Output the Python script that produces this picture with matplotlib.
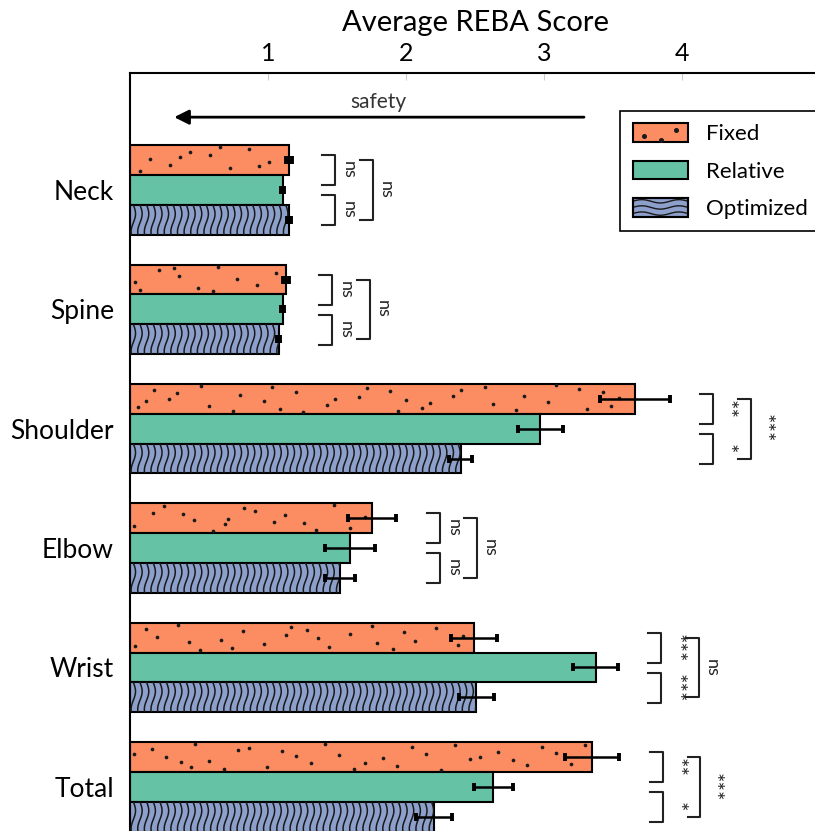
import numpy as np
import matplotlib
matplotlib.use('Agg')
from matplotlib import pyplot as plt
from matplotlib.patches import Rectangle
from matplotlib.lines import Line2D
from matplotlib.legend_handler import HandlerBase

plt.rcParams['font.family'] = ['Lato', 'DejaVu Sans']

# data
body_parts = ['Neck', 'Spine', 'Shoulder', 'Elbow', 'Wrist', 'Total']
fixed = [1.154, 1.130, 3.657, 1.756, 2.493, 3.350]
fixed_err = [0.02, 0.02, 0.254, 0.173, 0.169, 0.196]
relative = [1.106, 1.106, 2.973, 1.594, 3.374, 2.633]
relative_err = [0.01, 0.01, 0.164, 0.183, 0.163, 0.143]
optimized = [1.152, 1.077, 2.396, 1.522, 2.510, 2.205]
optimized_err = [0.015, 0.01, 0.085, 0.109, 0.128, 0.129]

# significance: fixed-relative, relative-optimized, fixed-optimized
sig_fr = ['ns', 'ns', '**', 'ns', '***', '**']
sig_ro = ['ns', 'ns', '*', 'ns', '***', '*']
sig_fo = ['ns', 'ns', '***', 'ns', 'ns', '***']

c_fixed = '#fc8d62'
c_rel = '#66c2a5'
c_opt = '#8da0cb'
ink = '#1a1a1a'

h = 0.25
y = np.arange(len(body_parts))

fig = plt.figure(figsize=(8.15, 8.31), dpi=100)
ax = fig.add_axes([130 / 815, 0, 690 / 815, 758 / 831])

bar_kw = dict(height=h, edgecolor='black', linewidth=1.5, zorder=2)
err_kw = dict(fmt='none', ecolor='black', elinewidth=1.8, capsize=2.8, capthick=2.8, zorder=4)

b1 = ax.barh(y - h, fixed, color=c_fixed, **bar_kw)
b2 = ax.barh(y, relative, color=c_rel, **bar_kw)
b3 = ax.barh(y + h, optimized, color=c_opt, **bar_kw)
ax.errorbar(fixed, y - h, xerr=fixed_err, **err_kw)
ax.errorbar(relative, y, xerr=relative_err, **err_kw)
ax.errorbar(optimized, y + h, xerr=optimized_err, **err_kw)


def halton(k, base):
    out = np.zeros(len(k))
    for j, n in enumerate(k):
        f, r = 1.0, 0.0
        while n > 0:
            f /= base
            r += f * (n % base)
            n //= base
        out[j] = r
    return out


# scattered dot texture for the fixed bars (Halton sequence, no randomness)
def add_dots(patch, per_unit=10, offset=0):
    x0, y0 = patch.get_x(), patch.get_y()
    w, hh = patch.get_width(), patch.get_height()
    n = max(int(w * per_unit), 1)
    k = np.arange(1 + offset, n + 1 + offset)
    u = halton(k, 2)
    v = halton(k, 3)
    sc = ax.scatter(x0 + u * w, y0 + 0.03 * hh + v * 0.94 * hh, s=7, color=ink,
                    linewidths=0, zorder=3)
    sc.set_clip_path(patch)


# wavy texture for the optimized bars
def add_waves(patch, step=0.048, amp=0.016, lam=0.3):
    x0, y0 = patch.get_x(), patch.get_y()
    w, hh = patch.get_width(), patch.get_height()
    t = np.linspace(y0, y0 + hh, 80)
    for xi in np.arange(x0 + step / 2, x0 + w + step, step):
        xs = xi + amp * np.sin(2 * np.pi * (t - y0) / lam)
        ln, = ax.plot(xs, t, color=ink, lw=1.1, zorder=3)
        ln.set_clip_path(patch)


for i, p in enumerate(b1.patches):
    add_dots(p, offset=7 * i)
for p in b3.patches:
    add_waves(p)


class DotHandler(HandlerBase):
    def create_artists(self, legend, orig_handle, xdescent, ydescent,
                       width, height, fontsize, trans):
        rect = Rectangle((-xdescent, -ydescent), width, height, facecolor=c_fixed,
                         edgecolor='black', lw=1.5, transform=trans)
        px = -xdescent + width * np.array([0.2, 0.52, 0.78])
        py = -ydescent + height * np.array([0.3, 0.08, 0.6])
        dots = Line2D(px, py, ls='none', marker='o', ms=2.6, color=ink, transform=trans)
        dots.set_clip_path(rect)
        return [rect, dots]


class WaveHandler(HandlerBase):
    def create_artists(self, legend, orig_handle, xdescent, ydescent,
                       width, height, fontsize, trans):
        rect = Rectangle((-xdescent, -ydescent), width, height, facecolor=c_opt,
                         edgecolor='black', lw=1.5, transform=trans)
        arts = [rect]
        xs = np.linspace(-xdescent, -xdescent + width, 60)
        for k in range(3):
            yc = -ydescent + height * (k + 0.5) / 3
            ys = yc + height * 0.09 * np.sin(2 * np.pi * (xs + xdescent) / (width / 1.5))
            ln = Line2D(xs, ys, color=ink, lw=1.0, transform=trans)
            ln.set_clip_path(rect)
            arts.append(ln)
        arts.append(Rectangle((-xdescent, -ydescent), width, height, facecolor='none',
                              edgecolor='black', lw=1.5, transform=trans))
        return arts


# significance brackets
arm = 0.094


def bracket(x, ya, yb, label, text_dx):
    ax.plot([x, x + arm, x + arm, x], [ya, ya, yb, yb], color='#222222', lw=1.5,
            zorder=3, clip_on=False)
    ax.text(x + arm + text_dx, (ya + yb) / 2, label, rotation=270, ha='center',
            va='center', fontsize=13 if label == 'ns' else 16, color='#222222')


for i in range(len(body_parts)):
    xm = max(fixed[i] + fixed_err[i], relative[i] + relative_err[i],
             optimized[i] + optimized_err[i]) + 0.22
    yf, yr, yo = y[i] - h, y[i], y[i] + h
    bracket(xm, yf - 0.04, yr - 0.04, sig_fr[i], 0.1)
    bracket(xm, yr + 0.045, yo + 0.045, sig_ro[i], 0.1)
    bracket(xm + arm + 0.18, yf, yo, sig_fo[i], 0.09)

# safety arrow
ax.annotate('', xy=(0.30, -0.61), xytext=(3.31, -0.61),
            arrowprops=dict(arrowstyle='-|>', color='black', lw=2, mutation_scale=22))
ax.text(1.8, -0.74, 'safety', ha='center', va='center', fontsize=15, color='#333333')

ax.set_xlim(0, 5)
ax.set_ylim(5.37, -0.98)
ax.set_yticks(y)
ax.set_yticklabels(body_parts, fontsize=19)
ax.set_xticks([1, 2, 3, 4])
ax.xaxis.set_ticks_position('top')
ax.xaxis.set_label_position('top')
ax.tick_params(axis='x', direction='in', length=5, color='#cccccc', labelsize=18,
               pad=6, top=True, bottom=False, labeltop=True, labelbottom=False)
ax.tick_params(axis='y', length=0, pad=11.5)
ax.set_xlabel('Average REBA Score', fontsize=21, labelpad=8)

for s in ['right', 'bottom']:
    ax.spines[s].set_visible(False)
for s in ['top', 'left']:
    ax.spines[s].set_linewidth(1.5)
    ax.spines[s].set_color('black')

leg = ax.legend([b1, b2, b3], ['Fixed', 'Relative', 'Optimized'],
                handler_map={b1: DotHandler(), b3: WaveHandler()},
                loc='upper right', bbox_to_anchor=(1.0, 0.95), borderaxespad=0,
                fontsize=16, fancybox=False, edgecolor='black', framealpha=1,
                handlelength=2.5, handleheight=0.9, handletextpad=0.8,
                labelspacing=0.75, borderpad=0.55)
leg.get_frame().set_linewidth(1.2)

fig.savefig('out.png', dpi=100)
